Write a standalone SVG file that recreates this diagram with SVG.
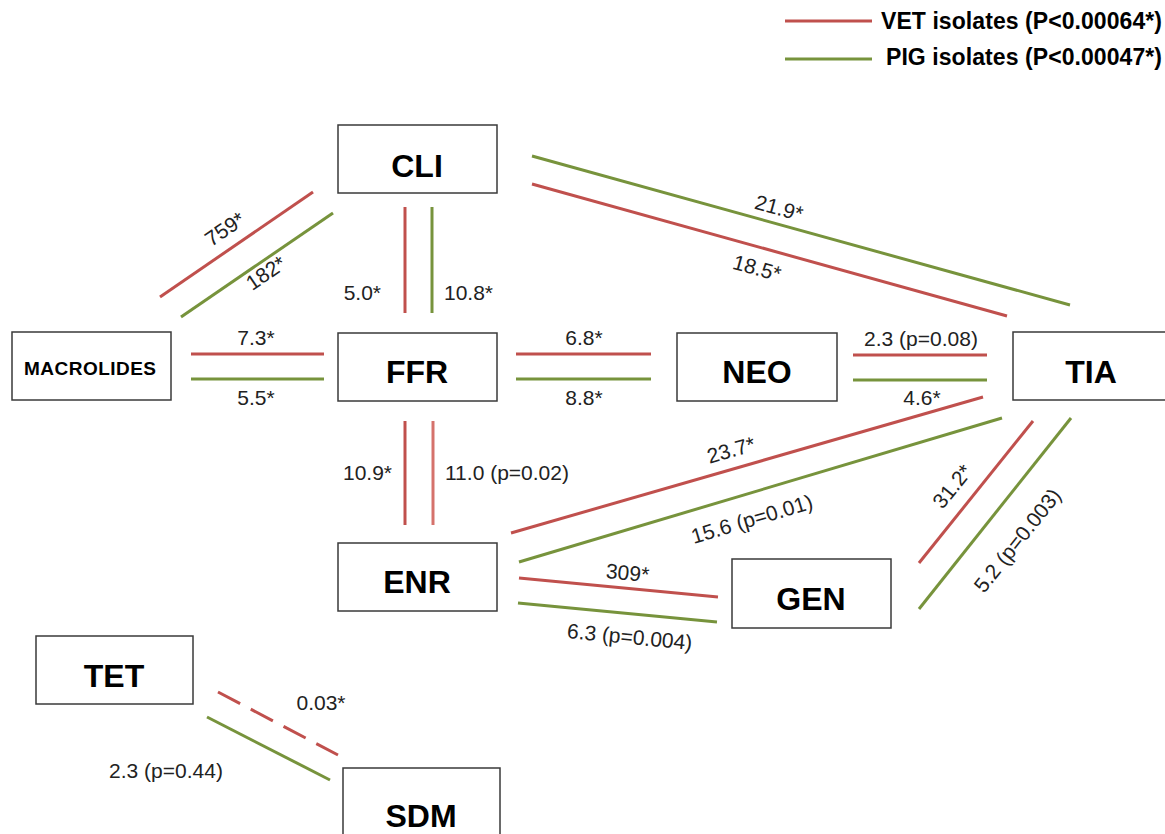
<svg xmlns="http://www.w3.org/2000/svg" width="1165" height="834" viewBox="0 0 1165 834">
<style>
.box{fill:#fff;stroke:#3a3a3a;stroke-width:1.5}
.nt{font-family:"Liberation Sans",Arial,sans-serif;font-weight:bold;font-size:32px;fill:#000;text-anchor:middle}
.lb{font-family:"Liberation Sans",Arial,sans-serif;font-size:21px;fill:#222}
.lg{font-family:"Liberation Sans",Arial,sans-serif;font-weight:bold;font-size:23px;fill:#000}
.r{stroke:#c0504d;stroke-width:3;fill:none}
.r2{stroke:#d5726c;stroke-width:3;fill:none}
.g{stroke:#77933c;stroke-width:3;fill:none}
.m{text-anchor:middle}
.e{text-anchor:end}
</style>
<rect width="1165" height="834" fill="#fff"/>
<g id="legend">
<line class="r" x1="785" y1="21" x2="872" y2="21"/>
<line class="g" x1="785" y1="59" x2="872" y2="59"/>
<text class="lg" x="881" y="29" textLength="281">VET isolates (P&lt;0.00064*)</text>
<text class="lg" x="886" y="65" textLength="276">PIG isolates (P&lt;0.00047*)</text>
</g>
<g id="connectors">
<line class="r" x1="160" y1="297" x2="313" y2="192"/>
<line class="g" x1="181" y1="317" x2="333" y2="213"/>
<line class="r" x1="405" y1="207" x2="405" y2="313"/>
<line class="g" x1="432" y1="207" x2="432" y2="313"/>
<line class="g" x1="532" y1="156" x2="1070" y2="305"/>
<line class="r" x1="532" y1="184" x2="1007" y2="316"/>
<line class="r" x1="191" y1="354" x2="324" y2="354"/>
<line class="g" x1="191" y1="379" x2="324" y2="379"/>
<line class="r" x1="516" y1="354" x2="651" y2="354"/>
<line class="g" x1="516" y1="379" x2="651" y2="379"/>
<line class="r" x1="853" y1="355" x2="987" y2="355"/>
<line class="g" x1="853" y1="380" x2="987" y2="380"/>
<line class="r" x1="405" y1="421" x2="405" y2="525"/>
<line class="r2" x1="433" y1="421" x2="433" y2="525"/>
<line class="r" x1="511" y1="533" x2="983" y2="397"/>
<line class="g" x1="519" y1="562" x2="1002" y2="418"/>
<line class="r" x1="519" y1="578" x2="718" y2="597"/>
<line class="g" x1="518" y1="603" x2="717" y2="622"/>
<line class="r" x1="919" y1="563" x2="1033" y2="421"/>
<line class="g" x1="919" y1="609" x2="1071" y2="418"/>
<line class="r" x1="218" y1="692" x2="338" y2="755" stroke-dasharray="25 12"/>
<line class="g" x1="207" y1="717" x2="330" y2="780"/>
</g>
<g id="labels">
<text class="lb m" transform="translate(229,235) rotate(-34.5)">759*</text>
<text class="lb m" transform="translate(270,279) rotate(-34.5)">182*</text>
<text class="lb e" x="381" y="300">5.0*</text>
<text class="lb" x="444" y="300">10.8*</text>
<text class="lb m" transform="translate(777,215) rotate(15.5)">21.9*</text>
<text class="lb m" transform="translate(755,275) rotate(15.5)">18.5*</text>
<text class="lb m" x="256" y="345">7.3*</text>
<text class="lb m" x="256" y="405">5.5*</text>
<text class="lb m" x="584" y="345">6.8*</text>
<text class="lb m" x="584" y="405">8.8*</text>
<text class="lb m" x="921" y="346">2.3 (p=0.08)</text>
<text class="lb m" x="922" y="405">4.6*</text>
<text class="lb e" x="392" y="480">10.9*</text>
<text class="lb" x="445" y="480">11.0 (p=0.02)</text>
<text class="lb m" transform="translate(733,457) rotate(-16)">23.7*</text>
<text class="lb m" transform="translate(754,526) rotate(-16.6)">15.6 (p=0.01)</text>
<text class="lb m" transform="translate(627,580) rotate(5)">309*</text>
<text class="lb m" transform="translate(629,644) rotate(5.5)">6.3 (p=0.004)</text>
<text class="lb m" transform="translate(958,491) rotate(-51)">31.2*</text>
<text class="lb m" transform="translate(1023,545) rotate(-51.5)">5.2 (p=0.003)</text>
<text class="lb m" x="321" y="710">0.03*</text>
<text class="lb m" x="166" y="778">2.3 (p=0.44)</text>
</g>
<g id="node-CLI"><rect class="box" x="338" y="125" width="159" height="68"/><text class="nt" x="417" y="177">CLI</text></g>
<g id="node-MACROLIDES"><rect class="box" x="12" y="332" width="159" height="68"/><text class="nt" x="90" y="375" style="font-size:19px" textLength="132">MACROLIDES</text></g>
<g id="node-FFR"><rect class="box" x="338" y="333" width="159" height="68"/><text class="nt" x="417" y="383">FFR</text></g>
<g id="node-NEO"><rect class="box" x="677" y="333" width="160" height="68"/><text class="nt" x="757" y="383">NEO</text></g>
<g id="node-TIA"><rect class="box" x="1013" y="332" width="170" height="68"/><text class="nt" x="1091" y="383">TIA</text></g>
<g id="node-ENR"><rect class="box" x="338" y="543" width="159" height="68"/><text class="nt" x="417" y="593">ENR</text></g>
<g id="node-GEN"><rect class="box" x="732" y="559" width="159" height="69"/><text class="nt" x="811" y="610">GEN</text></g>
<g id="node-TET"><rect class="box" x="36" y="636" width="157" height="68"/><text class="nt" x="114" y="687">TET</text></g>
<g id="node-SDM"><rect class="box" x="343" y="768" width="157" height="75"/><text class="nt" x="421" y="827">SDM</text></g>
</svg>
